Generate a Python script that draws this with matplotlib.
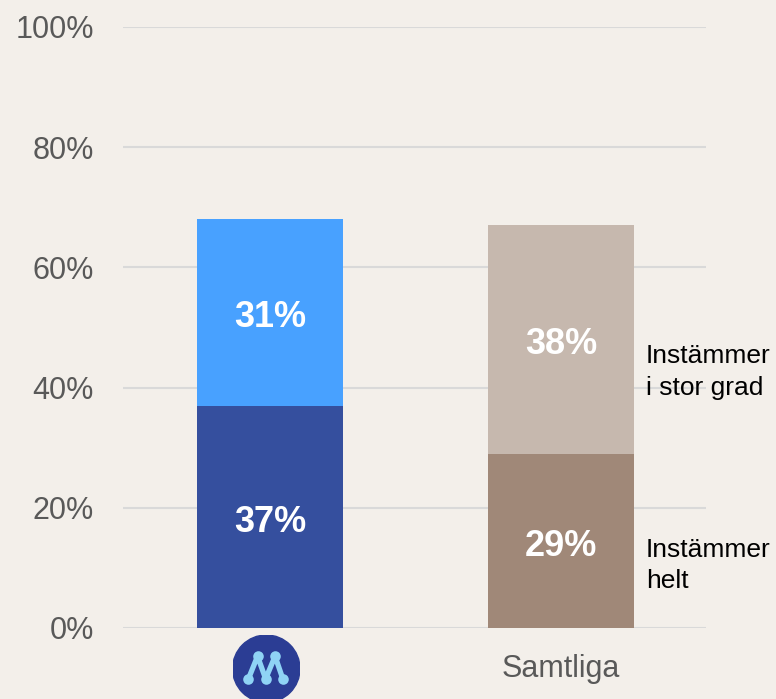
import matplotlib.pyplot as plt
from matplotlib.patches import Circle

# data
categories = ["M", "Samtliga"]
helt = [37, 29]
stor_grad = [31, 38]
series_names = ["Instämmer\nhelt", "Instämmer\ni stor grad"]

bg = "#F3EFEA"
dark_colors = ["#354F9E", "#A08878"]
light_colors = ["#48A1FF", "#C6B8AE"]

plt.rcParams['font.family'] = ['Liberation Sans', 'DejaVu Sans']

fig = plt.figure(figsize=(7.76, 6.99), dpi=100, facecolor=bg)
ax = fig.add_axes([0.1585, 0.1016, 0.7513, 0.8598])
ax.set_facecolor(bg)

x = list(range(len(categories)))
ax.bar(x, helt, width=0.502, color=dark_colors, zorder=3)
ax.bar(x, stor_grad, width=0.502, bottom=helt, color=light_colors, zorder=3)

# value labels inside the segments (nudged down a little like the original)
for i in x:
    ax.text(i, helt[i] / 2 - 0.9, f"{helt[i]}%", ha="center", va="center",
            color="white", fontsize=26, fontweight="bold", zorder=4)
    ax.text(i, helt[i] + stor_grad[i] / 2 - 0.9, f"{stor_grad[i]}%", ha="center",
            va="center", color="white", fontsize=26, fontweight="bold", zorder=4)

# series labels to the right of the last bar
ax.text(1.292, 10.4, series_names[0], ha="left", va="center", fontsize=19,
        color="black", linespacing=1.38)
ax.text(1.292, 42.6, series_names[1], ha="left", va="center", fontsize=19,
        color="black", linespacing=1.38)

ax.set_ylim(0, 100)
ax.set_xlim(-0.505, 1.498)
ax.set_yticks(range(0, 101, 20))
ax.set_yticklabels([f"{v}%" for v in range(0, 101, 20)])
ax.set_xticks(x)
ax.set_xticklabels(["", categories[1]])
ax.tick_params(axis="y", length=0, pad=21, labelsize=22, labelcolor="#595959")
ax.tick_params(axis="x", length=0, pad=19, labelsize=22, labelcolor="#595959")
ax.yaxis.grid(True, color="#D9D9D9", linewidth=1.5, zorder=0)
for s in ax.spines.values():
    s.set_visible(False)

# party logo under the first bar
lx = fig.add_axes([232.6 / 776, 1 - 702.4 / 699, 67.4 / 776, 67.4 / 699])
lx.set_xlim(-1, 1)
lx.set_ylim(-1, 1)
lx.set_aspect("equal")
lx.axis("off")
lx.add_patch(Circle((0, 0), 1, color="#2B3D94"))
mx = [-0.53, -0.26, -0.02, 0.26, 0.49]
my = [-0.30, 0.37, -0.30, 0.37, -0.30]
lx.plot(mx, my, color="#8FD3F5", linewidth=3.8, solid_joinstyle="round")
lx.scatter(mx, my, s=58, color="#8FD3F5", zorder=3, linewidths=0)

fig.savefig("out.png", dpi=100, facecolor=bg)
